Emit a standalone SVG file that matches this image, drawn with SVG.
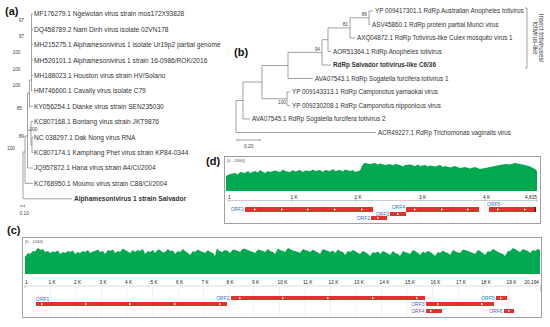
<svg xmlns="http://www.w3.org/2000/svg" width="550" height="327" viewBox="0 0 550 327">
<defs>
<style>
text{font-family:"Liberation Sans",Arial,sans-serif;fill:#222}
.pl{font-size:11px;font-weight:bold;fill:#111}
.ta{font-size:6.6px;fill:#333}
.tb{font-size:6.3px;fill:#333}
.bs{font-size:4.8px;fill:#444}
.tr{stroke:#666;stroke-width:0.6;fill:none}
.box{fill:#fff;stroke:#a0a0a0;stroke-width:1}
.cov{fill:#00a84f;stroke:none}
.ax{font-size:4.8px;fill:#555}
.rg{font-size:4.2px;fill:#555}
.grid{stroke:#e4e4e4;stroke-width:0.5}
.orf{fill:#e0312b}
.ol{font-size:5px;fill:#3d6fb8}
</style>
<path id="ar" d="M-1,-1.3 L1.2,0 L-1,1.3 Z" fill="#fff"/>
</defs>

<!-- panel labels -->
<text class="pl" x="5" y="15">(a)</text>
<text class="pl" x="234" y="56">(b)</text>
<text class="pl" x="206" y="165">(d)</text>
<text class="pl" x="7" y="234">(c)</text>

<!-- (a) tree -->
<g id="treeA-connectors">
<path class="tr" d="M31.5,14 V91 M31.5,14 H33 M31.5,29.4 H33 M31.5,44.8 H33 M31.5,60.2 H33 M31.5,75.6 H33 M31.5,91 H33
M29.5,80 H31.5 M29.5,80 V106.4 H33
M27.5,93 H29.5 M27.5,93 V168 H33
M27.5,130 H31 M31,121.8 V145 M31,121.8 H33 M31,145 H32 M32,137.2 V152.6 M32,137.2 H33.5 M32,152.6 H33.5
M25,136 H27.5 M25,136 V183.4 H33
M23,152 H25 M23,152 V198.8 H72
M21,206 H24.5 M21,204.8 V207.2 M24.5,204.8 V207.2"/>
</g>
<g id="treeA-bootstrap">
<text class="bs" x="24" y="21.5" text-anchor="end">97</text>
<text class="bs" x="24" y="37.5" text-anchor="end">97</text>
<text class="bs" x="20.5" y="54" text-anchor="end">100</text>
<text class="bs" x="20.5" y="70.5" text-anchor="end">100</text>
<text class="bs" x="20.5" y="86.5" text-anchor="end">100</text>
<text class="bs" x="22" y="109.5" text-anchor="end">85</text>
<text class="bs" x="29.3" y="131">100</text>
<text class="bs" x="24" y="137.5" text-anchor="end">89</text>
<text class="bs" x="15" y="150" text-anchor="end">100</text>
<text class="bs" x="19.5" y="214.5">0.10</text>
</g>
<g id="treeA-tips">
<text class="ta" x="34" y="16.3">MF176279.1 Ngewotan virus strain mos172X93828</text>
<text class="ta" x="34" y="31.7">DQ458789.2 Nam Dinh virus isolate 02VN178</text>
<text class="ta" x="34" y="47.1">MH215275.1 Alphamesonivirus 1 isolate Ur19p2 partial genome</text>
<text class="ta" x="34" y="62.5">MH520101.1 Alphamesonivirus 1 strain 16-0986/ROK/2016</text>
<text class="ta" x="34" y="77.9">MH188023.1 Houston virus strain HV/Solano</text>
<text class="ta" x="34" y="93.3">HM746600.1 Cavally virus isolate C79</text>
<text class="ta" x="34" y="108.7">KY056254.1 Dianke virus strain SEN235030</text>
<text class="ta" x="34" y="124.1">KC807168.1 Bontang virus strain JKT9876</text>
<text class="ta" x="34" y="139.5">NC 038297.1 Dak Nong virus RNA</text>
<text class="ta" x="34" y="154.9">KC807174.1 Kamphang Phet virus strain KP84-0344</text>
<text class="ta" x="34" y="170.3">JQ957872.1 Hana virus strain A4/CI/2004</text>
<text class="ta" x="34" y="185.7">KC768950.1 Moumo virus strain C88/CI/2004</text>
<text class="ta" x="74" y="201.1" font-weight="bold" fill="#111">Alphamesonivirus 1 strain Salvador</text>
</g>

<!-- (b) tree -->
<g id="treeB-connectors">
<path class="tr" d="M369,11 V24.5 M369,11 H373 M369,24.5 H370
M350,17.75 H369 M350,17.75 V38 H355
M328,27.9 H350 M328,27.9 V51.5 H331
M322,39.7 H328 M322,39.7 V65 H331
M288,52.4 H322 M288,52.4 V78.5 H313
M287,92 V105.5 M287,92 H290 M287,105.5 H290
M262,65.5 H288 M262,65.5 V98.75 H287
M243,82 H262 M243,82 V119 H250
M236,100.5 H243 M236,100.5 V132.5 H376
M237,140 H260 M237,138.8 V141.2 M260,138.8 V141.2
M525,8 H527 V68 H525"/>
</g>
<g id="treeB-bootstrap">
<text class="bs" x="367" y="15.5" text-anchor="end">89</text>
<text class="bs" x="348" y="26" text-anchor="end">81</text>
<text class="bs" x="320" y="51" text-anchor="end">94</text>
<text class="bs" x="286" y="104" text-anchor="end">100</text>
<text class="bs" x="244" y="148">0.20</text>
</g>
<g id="treeB-tips">
<text class="tb" x="375" y="13.2">YP 009417301.1 RdRp Australian Anopheles totivirus</text>
<text class="tb" x="372" y="26.7">ASV45860.1 RdRp protein partial Murici virus</text>
<text class="tb" x="357" y="40.2">AXQ04872.1 RdRp Totivirus-like Culex mosquito virus 1</text>
<text class="tb" x="333" y="53.7">AOR51364.1 RdRp Anopheles totivirus</text>
<text class="tb" x="333" y="67.2" font-weight="bold" fill="#111">RdRp Salvador totivirus-like C6/36</text>
<text class="tb" x="315" y="80.7">AVA07543.1 RdRp Sogatella furcifera totivirus 1</text>
<text class="tb" x="292" y="94.2">YP 009143313.1 RdRp Camponotus yamaokai virus</text>
<text class="tb" x="292" y="107.7">YP 009230208.1 RdRp Camponotus nipponicus virus</text>
<text class="tb" x="252" y="121.2">AVA07545.1 RdRp Sogatella furcifera totivirus 2</text>
<text class="tb" x="378" y="134.7">ACR49227.1 RdRp Trichomonas vaginalis virus</text>
<text class="tb" transform="translate(539,38) rotate(90)" text-anchor="middle" font-size="5.8">Insect totiviruses/</text>
<text class="tb" transform="translate(532.5,38) rotate(90)" text-anchor="middle" font-size="5.8">totivirus-like</text>
</g>

<!-- (d) panel -->
<g id="panelD">
<rect class="box" x="224.5" y="156.5" width="316" height="67"/>
<text class="rg" x="227" y="161.5">[0 - 2094]</text>
<path class="cov" d="M226,191 V176 L230,174 L235,173 L238,174.5 L240,172 L245,173 L248,171 L250,173 L255,171 L258,172.5 L260,170 L265,173 L268,171 L270,172 L275,170.5 L280,172 L283,169.5 L285,171 L290,172 L293,170 L295,171.5 L300,170 L303,172 L305,170.5 L310,171 L313,169.5 L315,171 L320,170 L323,172 L325,170 L330,171 L333,169 L335,171 L340,170 L343,171.5 L345,169.5 L350,171 L353,170 L355,172 L360,170.5 L362,166 L364,163 L370,164 L375,163 L378,164.5 L380,163.5 L385,165 L390,164 L393,165.5 L395,164 L400,165 L403,166.5 L405,165 L410,164.5 L415,166 L418,164.5 L420,166 L425,165 L428,166.5 L430,165.5 L435,166.5 L440,165 L443,167 L445,166 L450,167.5 L455,166 L460,168 L465,167 L470,168.5 L475,167 L480,169 L485,168 L490,167 L495,166 L500,165 L505,164 L510,164.5 L515,163 L520,164 L525,165 L530,166.5 L535,169 L537,171 V191 Z"/>
<g class="ax">
<text x="228" y="198.5">1</text>
<text x="290.5" y="198.5">1 K</text>
<text x="354.5" y="198.5">2 K</text>
<text x="419" y="198.5">3 K</text>
<text x="483" y="198.5">4 K</text>
<text x="537" y="198.5" text-anchor="end">4,815</text>
</g>
<path stroke="#999" stroke-width="0.5" d="M228,200.5 H537 M228,199 V202 M292,199 V201.5 M356,199 V201.5 M421,199 V201.5 M485,199 V201.5 M537,199 V202"/>
<path class="grid" d="M260,201 V222 M292,201 V222 M324,201 V222 M356,201 V222 M389,201 V222 M421,201 V222 M453,201 V222 M485,201 V222 M517,201 V222"/>
<rect class="orf" x="245" y="207" width="128" height="5"/>
<rect class="orf" x="406" y="207" width="73" height="5"/>
<rect class="orf" x="489" y="207" width="47" height="5"/>
<rect class="orf" x="390" y="212" width="16" height="4"/>
<rect class="orf" x="371" y="216" width="16" height="4"/>
<rect x="534.5" y="207" width="1.5" height="5" fill="#6b1512"/>
<g>
<use href="#ar" x="255" y="209.5"/><use href="#ar" x="282" y="209.5"/><use href="#ar" x="308" y="209.5"/><use href="#ar" x="335" y="209.5"/><use href="#ar" x="362" y="209.5"/>
<use href="#ar" x="415" y="209.5"/><use href="#ar" x="442" y="209.5"/><use href="#ar" x="468" y="209.5"/>
<use href="#ar" x="498" y="209.5"/><use href="#ar" x="525" y="209.5"/>
<use href="#ar" x="398" y="214"/><use href="#ar" x="378" y="218"/>
</g>
<text class="ol" x="244" y="211" text-anchor="end">ORF1</text>
<text class="ol" x="405" y="209" text-anchor="end">ORF4</text>
<text class="ol" x="389" y="215.5" text-anchor="end">ORF3</text>
<text class="ol" x="370" y="220" text-anchor="end">ORF2</text>
<text class="ol" x="487" y="206">ORF5</text>
</g>

<!-- (c) panel -->
<g id="panelC">
<rect class="box" x="22.5" y="237.5" width="519" height="80"/>
<text class="rg" x="25" y="242.5">[0 - 1036]</text>
<path class="cov" d="M25,274 V257 L28,253 L30,254 L33,251 L35,251.5 L38,248 L41,250 L43,249 L45,252 L48,251 L50,253 L53,251.5 L55,252 L58,250.5 L60,254 L63,252 L65,253 L68,251 L70,252 L73,250.5 L75,254 L78,252 L80,253 L83,251 L85,252 L88,250 L90,253 L93,251.5 L95,251 L98,249.5 L100,252 L103,251 L105,254 L108,250 L110,251 L113,249.5 L115,253 L118,251 L120,252 L123,248.5 L125,250 L128,251.5 L130,253 L133,250 L135,252 L138,250 L140,251 L143,249 L145,254 L148,251 L150,252 L153,250 L155,253 L158,249.5 L160,250 L163,252.5 L165,252 L168,249 L170,251 L173,250.5 L175,254 L178,251 L180,252 L183,249 L185,251 L188,253 L190,255 L193,251 L195,252 L198,249.5 L200,251 L203,252 L205,253 L208,250 L210,252 L213,253 L215,256 L217,248 L218,250 L220,251 L222,252 L225,250 L228,251 L230,253 L233,249.5 L235,250 L238,251 L240,252 L243,248.5 L245,249 L248,250 L250,251 L253,252 L255,253 L258,249.5 L260,250 L263,251 L265,252 L268,249 L270,251 L273,252 L275,254 L278,248.5 L280,250 L283,251 L285,252 L288,248 L290,249 L293,250.5 L295,251 L298,252 L300,253 L303,249 L305,250 L308,251 L310,252 L313,249.5 L315,251 L318,252.5 L320,254 L323,249 L325,250 L328,251 L330,252 L333,250.5 L335,253 L338,249.5 L340,251 L343,252 L345,255 L348,251 L350,252 L353,250 L355,251 L358,253 L360,254 L363,251 L365,252 L368,254 L370,256 L373,252 L375,253 L378,251.5 L380,254 L383,251 L385,252 L388,253.5 L390,255 L393,251 L395,253 L398,254 L400,256 L403,251 L405,252 L408,253 L410,254 L413,250 L415,251 L418,253 L420,255 L423,251.5 L425,253 L428,251 L430,252 L433,254 L435,256 L438,252 L440,253 L443,250.5 L445,252 L448,253 L450,255 L453,250 L455,251 L458,252.5 L460,253 L463,249.5 L465,250 L468,251 L470,252 L473,253 L475,254 L478,250 L480,251 L483,253 L485,255 L488,251 L490,252 L493,249 L495,250 L498,252 L500,253 L503,254 L505,256 L508,251 L510,251 L513,248 L515,249 L518,251 L520,252 L523,249 L525,250 L528,251 L530,253 L533,250 L535,251 L538,249 L540,250 V274 Z"/>
<g class="ax">
<text x="25" y="284">1</text>
<text x="48.5" y="284">1 K</text>
<text x="74" y="284">2 K</text>
<text x="99.5" y="284">3 K</text>
<text x="125" y="284">4 K</text>
<text x="150.5" y="284">5 K</text>
<text x="176" y="284">6 K</text>
<text x="201.5" y="284">7 K</text>
<text x="226.5" y="284">8 K</text>
<text x="252" y="284">9 K</text>
<text x="277.5" y="284">10 K</text>
<text x="303" y="284">11 K</text>
<text x="328.5" y="284">12 K</text>
<text x="354" y="284">13 K</text>
<text x="379.5" y="284">14 K</text>
<text x="405" y="284">15 K</text>
<text x="430.5" y="284">16 K</text>
<text x="456" y="284">17 K</text>
<text x="481" y="284">18 K</text>
<text x="506.5" y="284">19 K</text>
<text x="539" y="284" text-anchor="end">20,194</text>
</g>
<path stroke="#999" stroke-width="0.5" stroke-dasharray="1,0.6" d="M25,286 H539"/>
<path stroke="#999" stroke-width="0.5" d="M25,285 V288 M540.5,285 V292"/>
<path class="grid" d="M50.5,287 V316 M76,287 V316 M101.5,287 V316 M127,287 V316 M152.5,287 V316 M178,287 V316 M203.5,287 V316 M229,287 V316 M254,287 V316 M279.5,287 V316 M305,287 V316 M330.5,287 V316 M356,287 V316 M381.5,287 V316 M407,287 V316 M432.5,287 V316 M458,287 V316 M483,287 V316 M508.5,287 V316"/>
<rect class="orf" x="36" y="302" width="191" height="4"/>
<rect class="orf" x="231" y="296" width="194" height="4"/>
<rect class="orf" x="426" y="302" width="68" height="4"/>
<rect class="orf" x="426" y="309" width="16" height="4"/>
<rect class="orf" x="496" y="296" width="11" height="4"/>
<rect class="orf" x="504" y="309" width="10" height="4"/>
<g>
<use href="#ar" x="42" y="304"/><use href="#ar" x="86" y="304"/><use href="#ar" x="130" y="304"/><use href="#ar" x="175" y="304"/><use href="#ar" x="220" y="304"/>
<use href="#ar" x="240" y="298"/><use href="#ar" x="283" y="298"/><use href="#ar" x="328" y="298"/><use href="#ar" x="373" y="298"/><use href="#ar" x="417" y="298"/>
<use href="#ar" x="438" y="304"/><use href="#ar" x="482" y="304"/>
<use href="#ar" x="431" y="311"/><use href="#ar" x="501" y="298"/><use href="#ar" x="509" y="311"/>
</g>
<text class="ol" x="36" y="300.5">ORF1</text>
<text class="ol" x="229.5" y="300" text-anchor="end">ORF2</text>
<text class="ol" x="424.5" y="306" text-anchor="end">ORF3</text>
<text class="ol" x="424.5" y="313" text-anchor="end">ORF4</text>
<text class="ol" x="494.5" y="300" text-anchor="end">ORF5</text>
<text class="ol" x="502.5" y="313" text-anchor="end">ORF6</text>
</g>
</svg>
